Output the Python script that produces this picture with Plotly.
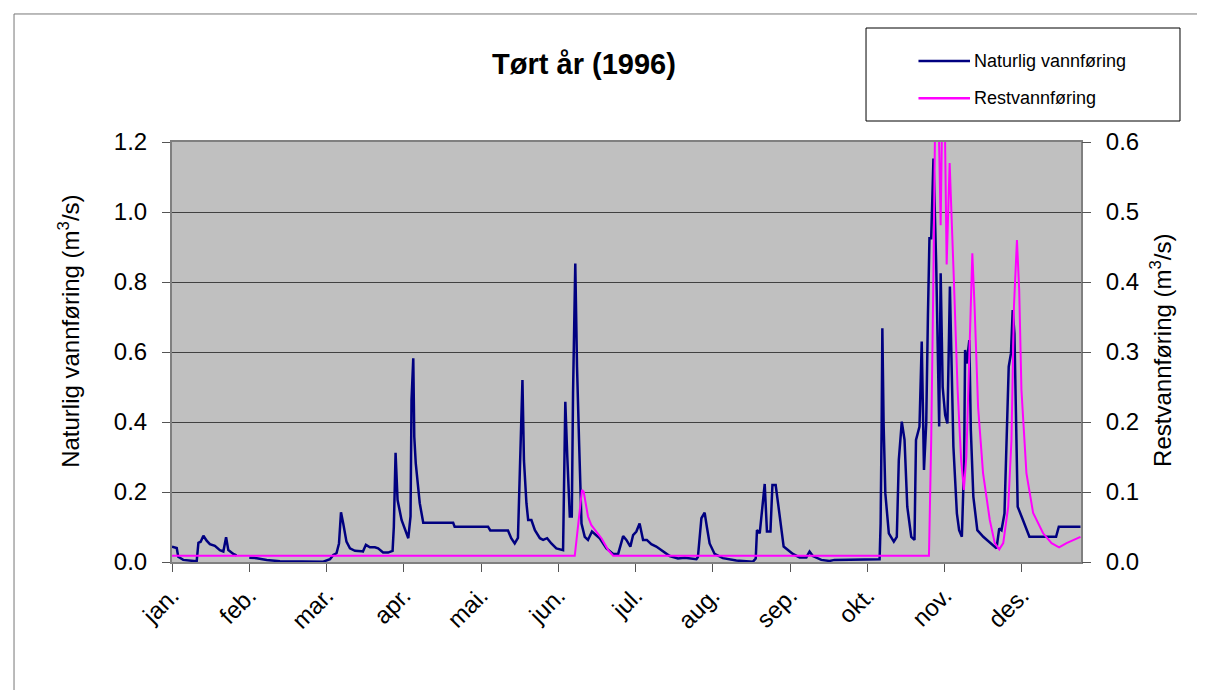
"""Tørt år (1996): naturlig vannføring og restvannføring."""

import plotly.graph_objects as go

FONT = "Arial, Liberation Sans, sans-serif"

months = ["jan.", "feb.", "mar.", "apr.", "mai.", "jun.",
          "jul.", "aug.", "sep.", "okt.", "nov.", "des."]
month_start = [0, 31, 62, 93, 124, 155, 186, 217, 248, 279, 310, 341]

# Naturlig vannføring (m3/s), dag i året -> verdi (None = manglende data)
nat_day = [
    0, 1.9, 2.5, 4.5, 9.9, 10.6, 11.5, 12.6, 13.9, 15.2, 17.2, 19.2, 20.6, 21.7,
    22.6, 24.6, 25.9, 28.5, 31.0, 34.0, 38.0, 43.3, 60.7, 63.4, 64.7, 66.0, 67.0,
    67.8, 68.7, 70.0, 71.4, 73.4, 76.0, 76.6, 77.8, 79.4, 81.4, 82.7, 84.7, 86.7,
    88.5, 89.0, 89.7, 90.5, 92.1, 94.8, 95.7, 96.1, 96.8, 97.2, 97.8, 99.4, 100.8,
    112.8, 113.4, 126.8, 127.7, 134.8, 136.1, 137.5, 138.8, 139.2, 139.8, 140.6,
    141.2, 142.2, 142.9, 144.2, 145.6, 147.6, 148.9, 150.5, 152.2, 154.2, 156.9,
    157.3, 157.8, 158.6, 159.6, 160.4, 160.9, 161.8, 162.5, 163.3, 164.3, 165.6,
    166.9, 168.5, 170.3, 171.6, 174.3, 177.0, 179.0, 181.0, 182.3, 183.9, 185.0,
    186.3, 187.6, 189.0, 190.5, 192.3, 194.3, 197.0, 199.7, 203.0, 205.7, 210.4,
    211.0, 212.4, 213.7, 214.6, 215.7, 217.7, 221.0, 226.4, 233.1, 234.2, 234.7,
    235.8, 236.9, 237.8, 238.7, 240.1, 240.9, 242.2, 243.5, 245.4, 249.1, 251.8,
    254.5, 255.8, 257.1, 260.5, 263.8, 265.8, 283.9, 284.3, 284.7, 285.0, 285.5,
    286.2, 287.6, 289.6, 290.8, 291.6, 292.8, 293.9, 295.0, 296.6, 297.9, 298.5,
    299.9, 300.8, 301.7, 302.6, 303.3, 303.9, 304.6, 305.5, 306.6, 307.2, 307.8,
    308.4, 309.2, 310.2, 311.1, 312.1, 312.8, 313.5, 314.9, 315.8, 316.9, 317.8,
    318.2, 318.8, 319.9, 320.5, 321.5, 323.1, 325.5, 329.5, 330.8, 331.9, 332.8,
    334.0, 335.1, 335.7, 336.6, 337.3, 338.0, 338.7, 339.3, 341.4, 344.0, 354.7,
    355.8, 364.5,
]
nat_flow = [
    0.044, 0.040, 0.015, 0.006, 0.002, 0.055, 0.058, 0.075, 0.061, 0.051, 0.046,
    0.034, 0.030, 0.071, 0.034, 0.023, 0.019, None, 0.012, 0.011, 0.006, 0.002,
    0.001, 0.008, 0.020, 0.025, 0.053, 0.142, 0.110, 0.058, 0.039, 0.032, 0.031,
    0.030, 0.049, 0.042, 0.042, 0.039, 0.027, 0.027, 0.032, 0.100, 0.312, 0.177,
    0.120, 0.068, 0.130, 0.463, 0.582, 0.358, 0.282, 0.168, 0.112, 0.112, 0.101,
    0.101, 0.090, 0.090, 0.068, 0.053, 0.069, 0.168, 0.300, 0.520, 0.291, 0.168,
    0.120, 0.120, 0.091, 0.068, 0.063, 0.068, 0.053, 0.039, 0.034, 0.177, 0.458,
    0.300, 0.130, 0.130, 0.482, 0.853, 0.558, 0.349, 0.110, 0.072, 0.063, 0.087,
    0.077, 0.068, 0.039, 0.023, 0.023, 0.074, 0.063, 0.044, 0.077, 0.087, 0.110,
    0.063, 0.063, 0.051, 0.044, 0.030, 0.017, 0.010, 0.012, 0.008, 0.014, 0.125,
    0.141, 0.100, 0.053, 0.023, 0.011, 0.004, 0.001, 0.010, 0.091, 0.082, 0.153,
    0.223, 0.087, 0.087, 0.220, 0.220, 0.149, 0.044, 0.023, 0.013, 0.013, 0.030,
    0.017, 0.006, 0.003, 0.006, 0.008, 0.110, 0.377, 0.668, 0.396, 0.196, 0.082,
    0.058, 0.072, 0.291, 0.401, 0.349, 0.158, 0.072, 0.063, 0.349, 0.387, 0.630,
    0.263, 0.396, 0.710, 0.925, 0.925, 1.153, 0.853, 0.567, 0.387, 0.825, 0.500,
    0.420, 0.396, 0.787, 0.510, 0.330, 0.139, 0.091, 0.072, 0.282, 0.606, 0.567,
    0.634, 0.377, 0.187, 0.091, 0.072, 0.049, 0.039, 0.096, 0.091, 0.139, 0.415,
    0.558, 0.596, 0.720, 0.653, 0.396, 0.158, 0.120, 0.072, 0.072, 0.101, 0.101,
]

# Restvannføring (m3/s), høyre akse
rest_day = [
    0, 161.6, 164.5, 165.2, 166.9, 168.2, 170.3, 172.3, 175.0, 177.0, 303.7,
    304.6, 305.5, 306.2, 307.6, 308.4, 309.0, 310.1, 310.8, 312.0, 313.6, 315.2,
    316.6, 317.7, 318.7, 319.8, 321.1, 322.0, 323.4, 325.4, 328.1, 330.1, 331.9,
    333.5, 335.5, 336.8, 337.8, 339.0, 339.9, 340.8, 342.8, 345.5, 349.5, 352.9,
    355.9, 358.9, 364.5,
]
rest_flow = [
    0.009, 0.009, 0.103, 0.100, 0.065, 0.053, 0.043, 0.034, 0.017, 0.009, 0.009,
    0.174, 0.412, 0.640, 0.630, 0.481, 0.640, 0.620, 0.425, 0.570, 0.412, 0.246,
    0.146, 0.103, 0.150, 0.293, 0.441, 0.365, 0.222, 0.127, 0.060, 0.027, 0.018,
    0.027, 0.079, 0.174, 0.365, 0.460, 0.389, 0.246, 0.127, 0.070, 0.041, 0.027,
    0.021, 0.027, 0.036,
]

series_names = ["Naturlig vannføring", "Restvannføring"]
series_colors = ["#000080", "#FF00FF"]

fig = go.Figure()
fig.add_trace(go.Scatter(
    x=nat_day, y=nat_flow, mode="lines", name=series_names[0],
    line={"color": series_colors[0], "width": 2.5}, connectgaps=False,
))
fig.add_trace(go.Scatter(
    x=rest_day, y=rest_flow, mode="lines", name=series_names[1],
    line={"color": series_colors[1], "width": 2}, yaxis="y2",
))

# Chart area border and legend box (Excel style), paper coords of plot area
fig.add_shape(type="rect", xref="paper", yref="paper",
              x0=-0.1738, y0=-1.0, x1=2.0, y1=1.3048,
              line={"color": "#777777", "width": 1}, layer="below")
fig.add_shape(type="rect", xref="paper", yref="paper",
              x0=0.7635, y0=1.0500, x1=1.1089, y1=1.2714,
              line={"color": "#000000", "width": 1}, fillcolor="white")

# hand-made legend, Excel style
for name, color, ly in zip(series_names, series_colors, [1.1929, 1.1040]):
    fig.add_shape(type="line", xref="paper", yref="paper",
                  x0=0.8212, x1=0.8779, y0=ly, y1=ly,
                  line={"color": color, "width": 2.5})
    fig.add_annotation(text=name, xref="paper", yref="paper",
                       x=0.8801, y=ly, xanchor="left", yanchor="middle",
                       showarrow=False, font={"size": 18, "family": FONT})

# axis titles
fig.add_annotation(text="Naturlig vannføring (m<sup>3</sup>/s)",
                   xref="paper", yref="paper", x=-0.1133, y=0.548,
                   textangle=-90, showarrow=False,
                   xanchor="center", yanchor="middle",
                   font={"size": 24, "family": FONT})
fig.add_annotation(text="Restvannføring (m<sup>3</sup>/s)",
                   xref="paper", yref="paper", x=1.088, y=0.505,
                   textangle=-90, showarrow=False,
                   xanchor="center", yanchor="middle",
                   font={"size": 24, "family": FONT})

fig.update_layout(
    width=1205,
    height=690,
    # page body adds 8 px, so plot area lands at x 172-1081, y 142-562
    margin={"l": 164, "r": 132, "t": 134, "b": 136},
    paper_bgcolor="white",
    plot_bgcolor="#C0C0C0",
    font={"family": FONT, "color": "black"},
    showlegend=False,
    title={
        "text": "<b>Tørt år (1996)</b>",
        "font": {"size": 29, "family": FONT},
        "x": 0.4532, "xref": "paper", "xanchor": "center",
        "y": 0.919, "yref": "container", "yanchor": "middle",
    },
    xaxis={
        "range": [0, 364.7],
        "tickvals": month_start,
        "ticktext": months,
        "tickangle": -45,
        "tickfont": {"size": 24},
        "ticks": "outside",
        "ticklen": 8,
        "tickcolor": "#555555",
        "showgrid": False,
        "zeroline": False,
        "showline": True,
        "linecolor": "#808080",
        "linewidth": 2,
        "mirror": True,
    },
    yaxis={
        "range": [0, 1.2],
        "tickvals": [0, 0.2, 0.4, 0.6, 0.8, 1.0, 1.2],
        "tickformat": ".1f",
        "tickfont": {"size": 24},
        "ticks": "outside",
        "ticklen": 8,
        "tickcolor": "#555555",
        "ticklabelstandoff": 10,
        "showgrid": True,
        "gridcolor": "#404040",
        "gridwidth": 1,
        "zeroline": False,
        "showline": True,
        "linecolor": "#808080",
        "linewidth": 2,
        "mirror": True,
    },
    yaxis2={
        "range": [0, 0.6],
        "overlaying": "y",
        "side": "right",
        "tickvals": [0, 0.1, 0.2, 0.3, 0.4, 0.5, 0.6],
        "tickformat": ".1f",
        "tickfont": {"size": 24},
        "ticks": "outside",
        "ticklen": 9,
        "tickcolor": "#555555",
        "ticklabelstandoff": 10,
        "showgrid": False,
        "zeroline": False,
    },
)

fig.write_html("out.html")
